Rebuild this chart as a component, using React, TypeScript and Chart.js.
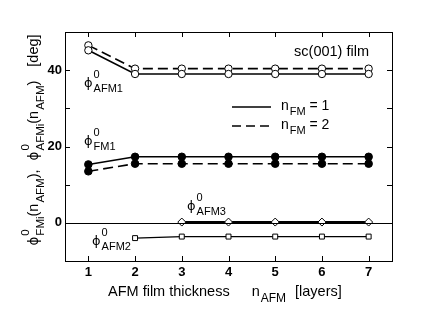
import React, { useEffect, useRef } from "react";
import { Chart, registerables } from "chart.js";

Chart.register(...registerables);

const nAFM = [1, 2, 3, 4, 5, 6, 7];
const afm1Nfm1 = [45.2, 39.0, 39.0, 39.0, 39.0, 39.0, 39.0];
const afm1Nfm2 = [46.5, 40.4, 40.4, 40.4, 40.4, 40.4, 40.4];
const fm1Nfm1 = [15.3, 17.3, 17.3, 17.3, 17.3, 17.3, 17.3];
const fm1Nfm2 = [13.5, 15.5, 15.5, 15.5, 15.5, 15.5, 15.5];
const afm3 = [null, null, 0.2, 0.2, 0.2, 0.2, 0.2];
const afm2 = [null, -4.0, -3.6, -3.6, -3.6, -3.6, -3.6];
const xTicks = [1, 2, 3, 4, 5, 6, 7];
const yLabelTicks = [0, 20, 40];

const FONT = "'Liberation Sans', Arial, Helvetica, sans-serif";
const PHI_FONT = "'DejaVu Sans', sans-serif";

type Part = { t?: string; phi?: boolean; sup?: string; sub?: string; gap?: number };

function drawRich(ctx: CanvasRenderingContext2D, x: number, y: number, parts: Part[], size: number, smallSize: number, measureOnly = false) {
  let cx = x;
  ctx.textBaseline = "alphabetic";
  ctx.textAlign = "left";
  for (const p of parts) {
    if (p.gap) {
      cx += p.gap;
    } else if (p.phi) {
      ctx.font = `${size - 1}px ${PHI_FONT}`;
      if (!measureOnly) ctx.fillText("ϕ", cx, y);
      cx += ctx.measureText("ϕ").width;
    } else if (p.t) {
      ctx.font = `${size}px ${FONT}`;
      if (!measureOnly) ctx.fillText(p.t, cx, y);
      cx += ctx.measureText(p.t).width;
    } else {
      ctx.font = `${smallSize}px ${FONT}`;
      let w = 0;
      if (p.sup) {
        if (!measureOnly) ctx.fillText(p.sup, cx + 1, y - size * 0.62);
        w = Math.max(w, ctx.measureText(p.sup).width + 1);
      }
      if (p.sub) {
        if (!measureOnly) ctx.fillText(p.sub, cx + 1, y + size * 0.38);
        w = Math.max(w, ctx.measureText(p.sub).width + 1);
      }
      cx += w;
    }
  }
  return cx - x;
}

const decorPlugin = {
  id: "decor",
  afterDraw(chart: any) {
    const ctx: CanvasRenderingContext2D = chart.ctx;
    const xs = chart.scales.x;
    const ys = chart.scales.y;
    const area = chart.chartArea;
    ctx.save();
    ctx.strokeStyle = "#000";
    ctx.fillStyle = "#000";
    ctx.lineWidth = 1;

    // frame
    ctx.strokeRect(Math.round(area.left) + 0.5, Math.round(area.top) + 0.5, Math.round(area.right - area.left), Math.round(area.bottom - area.top));

    // inward ticks
    const tl = 5;
    ctx.beginPath();
    for (const v of xTicks) {
      const px = Math.round(xs.getPixelForValue(v)) + 0.5;
      ctx.moveTo(px, area.top);
      ctx.lineTo(px, area.top + tl);
      ctx.moveTo(px, area.bottom);
      ctx.lineTo(px, area.bottom - tl);
    }
    for (let v = -10; v <= 50; v += 10) {
      const py = Math.round(ys.getPixelForValue(v)) + 0.5;
      ctx.moveTo(area.left, py);
      ctx.lineTo(area.left + tl, py);
      ctx.moveTo(area.right, py);
      ctx.lineTo(area.right - tl, py);
    }
    ctx.stroke();

    // zero line
    const y0 = Math.round(ys.getPixelForValue(0)) + 0.5;
    ctx.beginPath();
    ctx.moveTo(area.left, y0);
    ctx.lineTo(area.right, y0);
    ctx.stroke();

    // annotation text
    ctx.font = `14.5px ${FONT}`;
    ctx.textAlign = "right";
    ctx.textBaseline = "alphabetic";
    ctx.fillText("sc(001) film", 369, 56);

    drawRich(ctx, 84, 87, [{ phi: true }, { sup: "0", sub: "AFM1" }], 14, 11);
    drawRich(ctx, 84, 145, [{ phi: true }, { sup: "0", sub: "FM1" }], 14, 11);
    drawRich(ctx, 187, 210, [{ phi: true }, { sup: "0", sub: "AFM3" }], 14, 11);
    drawRich(ctx, 92, 245, [{ phi: true }, { sup: "0", sub: "AFM2" }], 14, 11);

    // legend
    ctx.lineWidth = 1.6;
    ctx.beginPath();
    ctx.moveTo(232, 107);
    ctx.lineTo(271, 107);
    ctx.stroke();
    ctx.setLineDash([9, 5]);
    ctx.beginPath();
    ctx.moveTo(232, 126);
    ctx.lineTo(271, 126);
    ctx.stroke();
    ctx.setLineDash([]);
    drawRich(ctx, 281, 110, [{ t: "n" }, { sub: "FM" }, { t: " = 1" }], 14, 11);
    drawRich(ctx, 281, 129, [{ t: "n" }, { sub: "FM" }, { t: " = 2" }], 14, 11);

    // x title
    const xParts: Part[] = [{ t: "AFM film thickness" }, { gap: 22 }, { t: "n" }, { sub: "AFM" }, { gap: 9 }, { t: "[layers]" }];
    drawRich(ctx, 108, 296, xParts, 14.5, 12);

    // y title
    const yParts: Part[] = [
      { phi: true }, { sup: "0", sub: "FMi" }, { t: "(n" }, { sub: "AFM" }, { t: ")," }, { gap: 9 }, { phi: true },
      { sup: "0", sub: "AFMi" }, { t: "(n" }, { sub: "AFM" }, { t: ")" }, { gap: 14 }, { t: "[deg]" },
    ];
    const yw = drawRich(ctx, 0, 0, yParts, 14.5, 11.5, true);
    ctx.save();
    ctx.translate(38, 140);
    ctx.rotate(-Math.PI / 2);
    drawRich(ctx, -yw / 2, 0, yParts, 14.5, 11.5);
    ctx.restore();

    ctx.restore();
  },
};

function pts(ys: (number | null)[]) {
  return nAFM.map((x, i) => ({ x, y: ys[i] })).filter((p) => p.y !== null) as { x: number; y: number }[];
}

export default function App() {
  const ref = useRef<HTMLCanvasElement>(null);
  useEffect(() => {
    document.body.style.margin = "0";
    const canvas = ref.current!;
    const base = {
      borderColor: "#000",
      pointBorderColor: "#000",
      borderWidth: 1.6,
      pointBorderWidth: 1,
      tension: 0,
    };
    const chart = new Chart(canvas, {
      type: "line",
      data: {
        datasets: [
          { ...base, data: pts(afm1Nfm1), pointStyle: "circle", pointRadius: 3.7, pointBackgroundColor: "#fff" },
          { ...base, data: pts(afm1Nfm2), borderDash: [10, 5], pointStyle: "circle", pointRadius: 3.7, pointBackgroundColor: "#fff" },
          { ...base, data: pts(fm1Nfm1), pointStyle: "circle", pointRadius: 3.8, pointBackgroundColor: "#000" },
          { ...base, data: pts(fm1Nfm2), borderDash: [10, 5], pointStyle: "circle", pointRadius: 3.8, pointBackgroundColor: "#000" },
          { ...base, borderWidth: 2, data: pts(afm3), pointStyle: "rectRot", pointRadius: 4, pointBackgroundColor: "#fff" },
          { ...base, borderWidth: 1.2, data: pts(afm2), pointStyle: "rect", pointRadius: 3.5, pointBackgroundColor: "#fff" },
        ] as any,
      },
      options: {
        animation: false,
        responsive: false,
        maintainAspectRatio: false,
        layout: { padding: { left: 0, top: 32, right: 31, bottom: 0 } },
        plugins: { legend: { display: false }, tooltip: { enabled: false } },
        scales: {
          x: {
            type: "linear",
            min: 0.5,
            max: 7.5,
            grid: { display: false, drawTicks: false },
            border: { display: false },
            afterBuildTicks: (s: any) => {
              s.ticks = xTicks.map((v) => ({ value: v }));
            },
            afterFit: (s: any) => {
              s.height = 66;
            },
            ticks: {
              color: "#000",
              font: { family: FONT, size: 13, weight: "bold" },
              padding: 4,
              maxRotation: 0,
            },
          },
          y: {
            type: "linear",
            min: -10,
            max: 50,
            grid: { display: false, drawTicks: false },
            border: { display: false },
            afterBuildTicks: (s: any) => {
              s.ticks = yLabelTicks.map((v) => ({ value: v }));
            },
            afterFit: (s: any) => {
              s.width = 65;
            },
            ticks: {
              color: "#000",
              font: { family: FONT, size: 13, weight: "bold" },
              padding: 3,
            },
          },
        },
      } as any,
      plugins: [decorPlugin],
    });
    return () => chart.destroy();
  }, []);
  return (
    <div style={{ position: "absolute", left: 0, top: 0, width: 423, height: 327 }}>
      <canvas ref={ref} width={423} height={327} style={{ width: 423, height: 327 }} />
    </div>
  );
}
